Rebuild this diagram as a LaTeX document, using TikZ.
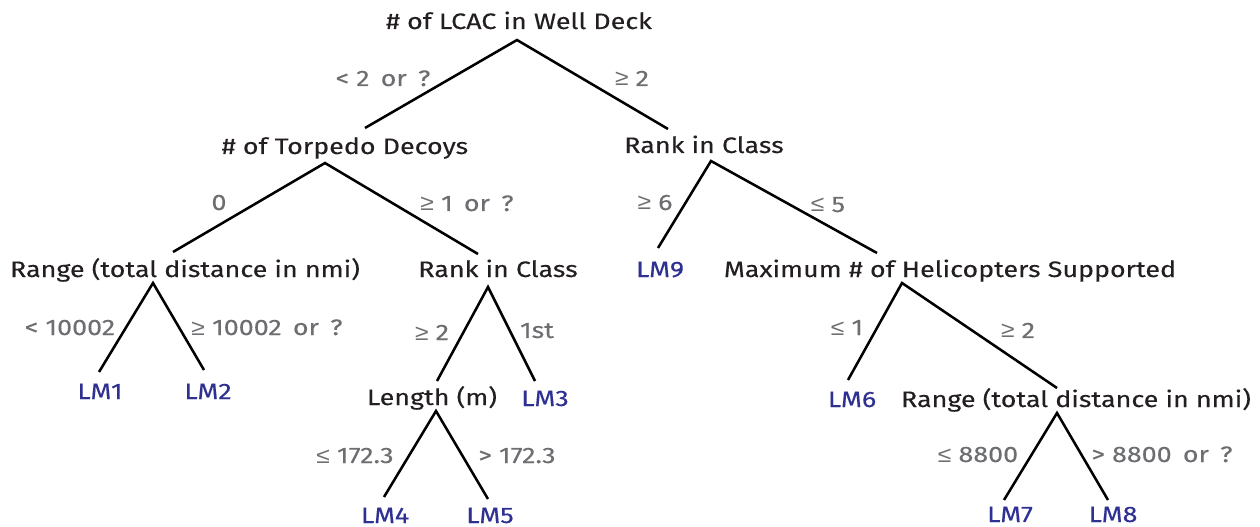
\documentclass[tikz,border=0pt]{standalone}
\usepackage{fontspec}
\setmainfont{Fira Sans}[FakeStretch=1.2,FakeBold=0.15]
\newfontfamily\symf{Liberation Sans}[FakeStretch=1.1]
\newcommand{\GE}{{\symf ≥}}
\newcommand{\LE}{{\symf ≤}}
\definecolor{txt}{HTML}{231F20}
\definecolor{lbl}{HTML}{6D6E71}
\definecolor{leaf}{HTML}{2E3192}
\begin{document}
\begin{tikzpicture}[x=0.75pt,y=-0.75pt,
  every node/.style={inner sep=0pt,anchor=base,font=\fontsize{16.8}{18}\selectfont},
  split/.style={text=txt},
  cond/.style={text=lbl},
  lm/.style={text=leaf},
  edge/.style={draw=black,line width=1.9pt}]
\useasboundingbox (0,0) rectangle (1260,527);
% split nodes
\node[split] (root) at (519,29) {\# of LCAC in Well Deck};
\node[split] (torp) at (345,154) {\# of Torpedo Decoys};
\node[split] (rank1) at (704,153) {Rank in Class};
\node[split] (range1) at (185,277) {Range (total distance in nmi)};
\node[split] (rank2) at (498,277) {Rank in Class};
\node[split] (heli) at (950,277) {Maximum \# of Helicopters Supported};
\node[split] (len) at (432,405) {Length (m)};
\node[split] (range2) at (1076,407) {Range (total distance in nmi)};
% leaves
\node[lm] (lm1) at (100,399) {LM1};
\node[lm] (lm2) at (208,399) {LM2};
\node[lm] (lm3) at (545,406) {LM3};
\node[lm] (lm4) at (385,523) {LM4};
\node[lm] (lm5) at (490,523) {LM5};
\node[lm] (lm6) at (852,407) {LM6};
\node[lm] (lm7) at (1010,522) {LM7};
\node[lm] (lm8) at (1113,522) {LM8};
\node[lm] (lm9) at (660,277) {LM9};
% apex and end coordinates
\coordinate (a-root) at (517,40);
\coordinate (e-torp) at (365,128);
\coordinate (e-rank1) at (668,129);
\coordinate (a-torp) at (325,163);
\coordinate (e-range1) at (173,252);
\coordinate (e-rank2) at (478,254);
\coordinate (a-rank1) at (711,161);
\coordinate (e-lm9) at (658,248);
\coordinate (e-heli) at (877,253);
\coordinate (a-range1) at (153,283);
\coordinate (e-lm1) at (99,372);
\coordinate (e-lm2) at (204,370);
\coordinate (a-rank2) at (488,287);
\coordinate (e-len) at (437,381);
\coordinate (e-lm3) at (535,381);
\coordinate (a-heli) at (902,283);
\coordinate (e-lm6) at (848,380);
\coordinate (e-range2) at (1057,388);
\coordinate (a-len) at (436,411);
\coordinate (e-lm4) at (384,497);
\coordinate (e-lm5) at (488,499);
\coordinate (a-range2) at (1057,413);
\coordinate (e-lm7) at (1004,500);
\coordinate (e-lm8) at (1108,500);
% connectors
\draw[edge] (e-torp) -- (a-root) -- (e-rank1);
\draw[edge] (e-range1) -- (a-torp) -- (e-rank2);
\draw[edge] (e-lm9) -- (a-rank1) -- (e-heli);
\draw[edge] (e-lm1) -- (a-range1) -- (e-lm2);
\draw[edge] (e-len) -- (a-rank2) -- (e-lm3);
\draw[edge] (e-lm6) -- (a-heli) -- (e-range2);
\draw[edge] (e-lm4) -- (a-len) -- (e-lm5);
\draw[edge] (e-lm7) -- (a-range2) -- (e-lm8);
% condition labels
\node[cond] (c1) at (383,86) {< 2\enspace or\enspace ?};
\node[cond] (c2) at (632,86) {\GE{} 2};
\node[cond] (c3) at (219,210) {0};
\node[cond] (c4) at (467,211) {\GE{} 1\enspace or\enspace ?};
\node[cond] (c5) at (655,210) {\GE{} 6};
\node[cond] (c6) at (828,212) {\LE{} 5};
\node[cond] (c7) at (70,335) {< 10002};
\node[cond] (c8) at (267,335) {\GE{} 10002\enspace or\enspace ?};
\node[cond] (c9) at (432,340) {\GE{} 2};
\node[cond] (c10) at (537,338) {1st};
\node[cond] (c11) at (847,335) {\LE{} 1};
\node[cond] (c12) at (1018,338) {\GE{} 2};
\node[cond] (c13) at (355,463) {\LE{} 172.3};
\node[cond] (c14) at (517,463) {> 172.3};
\node[cond] (c15) at (978,462) {\LE{} 8800};
\node[cond] (c16) at (1162,462) {> 8800\enspace or\enspace ?};
\end{tikzpicture}
\end{document}
